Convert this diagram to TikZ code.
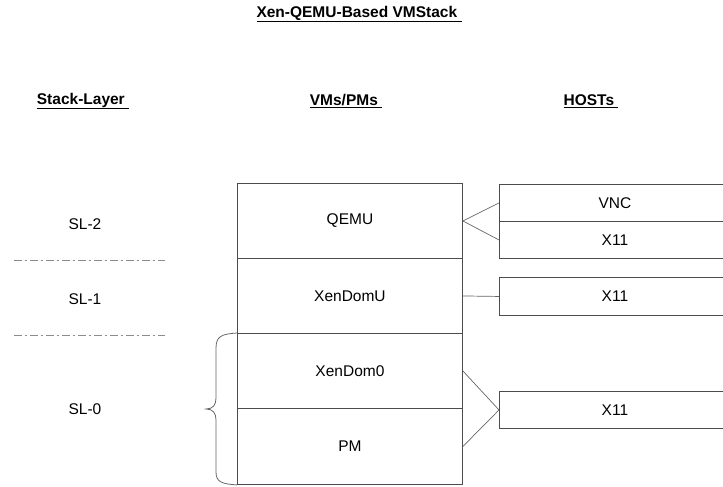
\documentclass[tikz,border=0pt]{standalone}
\usepackage{fontspec}
\setmainfont{Liberation Sans}
\begin{document}
\begin{tikzpicture}[x=1pt,y=-1pt,
  every node/.style={font=\fontsize{15.5}{18}\selectfont},
  head/.style={font=\fontsize{15.5}{18}\selectfont\bfseries},
  stackbox/.style={draw=black!70,line width=0.9pt,rectangle,minimum width=225pt,minimum height=75pt,anchor=north west,inner sep=0pt},
  hostbox/.style={draw=black!70,line width=0.9pt,rectangle,minimum width=231pt,minimum height=37pt,anchor=north west,inner sep=0pt},
  link/.style={draw=black!60,line width=0.7pt},
  sep/.style={draw=black!45,line width=0.8pt,dash pattern=on 8pt off 3pt on 2pt off 3pt},
  layer/.style={}]
\useasboundingbox (0,0) rectangle (723,487);
\clip (0,0) rectangle (723,487);
% headings
\node[head] (title) at (359,14) {\underline{Xen-QEMU-Based VMStack\ }};
\node[head] (hl) at (83,101) {\underline{Stack-Layer\ }};
\node[head] (hv) at (346,101) {\underline{VMs/PMs\ }};
\node[head] (hh) at (591,101) {\underline{HOSTs\ }};
% layer labels
\node[layer] (sl2) at (85,224) {SL-2};
\node[layer] (sl1) at (85,299) {SL-1};
\node[layer] (sl0) at (85,409) {SL-0};
% separators
\coordinate (s1a) at (14,260); \coordinate (s1b) at (165,260);
\coordinate (s2a) at (14,335); \coordinate (s2b) at (165,335);
\draw[sep] (s1a) -- (s1b);
\draw[sep] (s2a) -- (s2b);
% stack
\node[stackbox] (qemu) at (237,183) {QEMU};
\node[stackbox] (domu) at (237,258) {XenDomU};
\node[stackbox] (dom0) at (237,333) {XenDom0};
\node[stackbox,minimum height=76pt] (pm) at (237,408) {PM};
% brace
\draw[draw=black!60,line width=0.8pt] (dom0.north west) .. controls (222,334) and (216,336) .. (216,348)
  -- (216,398) .. controls (216,405) and (213,409) .. (206,409)
  .. controls (213,409) and (216,413) .. (216,420)
  -- (216,472) .. controls (216,482) and (222,484) .. (pm.south west);
% hosts
\node[hostbox] (vnc) at (499,184) {VNC};
\node[hostbox] (xa) at (499,221) {X11};
\node[hostbox,minimum height=38pt] (xb) at (499,277) {X11};
\node[hostbox] (xc) at (499,391) {X11};
% connectors
\draw[link] (qemu.east) -- (vnc.west);
\draw[link] (qemu.east) -- (xa.west);
\draw[link] (domu.east) -- (xb.west);
\draw[link] (dom0.east) -- (xc.west);
\draw[link] (pm.east) -- (xc.west);
\end{tikzpicture}
\end{document}
